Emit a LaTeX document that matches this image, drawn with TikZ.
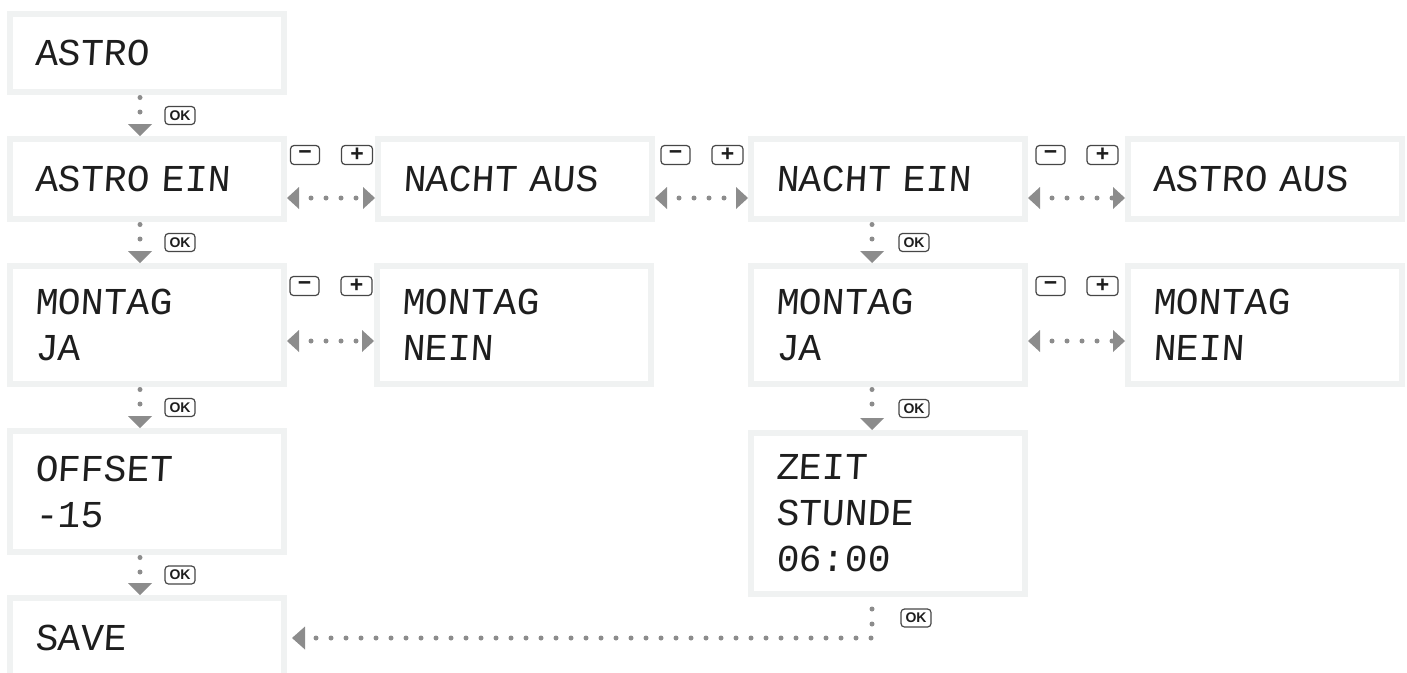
\documentclass[tikz,border=0pt]{standalone}
\usepackage{fontspec}
\usetikzlibrary{arrows.meta,calc}
\newfontfamily\lcdfont{Liberation Mono}[FakeSlant=0.06]
\newfontfamily\btnfont{Liberation Sans}
\definecolor{boxgray}{RGB}{240,242,242}
\definecolor{conngray}{RGB}{140,140,140}
\definecolor{lcdtext}{RGB}{30,30,30}
\definecolor{btnline}{RGB}{70,70,70}
\tikzset{
  lcdbox/.style={draw=boxgray, line width=6pt, fill=white, inner sep=0pt,
    text width=224pt, align=left, minimum width=274pt, text=lcdtext,
    font={\lcdfont\fontsize{38}{46}\selectfont}},
  keybtn/.style={draw=btnline, solid, line width=1.2pt, rounded corners=3.5pt, fill=white,
    minimum width=29pt, minimum height=19pt, inner sep=0pt, text=lcdtext,
    font={\btnfont\bfseries\fontsize{23}{23}\selectfont}},
  okbtn/.style={keybtn, minimum width=30pt, minimum height=18pt,
    font={\btnfont\bfseries\fontsize{14}{14}\selectfont}},
  dotline/.style={draw=conngray, line width=5pt, line cap=round},
  vconn/.style={dotline, dash pattern=on 0pt off 14.5pt, shorten <=2.5pt,
    -{Triangle[length=12pt,width=24pt,line width=0pt]}},
  hconn/.style={dotline, dash pattern=on 0pt off 15pt, dash phase=3pt,
    {Triangle[length=12pt,width=22pt,line width=0pt]}-{Triangle[length=12pt,width=22pt,line width=0pt]}},
  fconn/.style={dotline, dash pattern=on 0pt off 15pt, dash phase=3pt, shorten >=5pt,
    -{Triangle[length=13pt,width=23pt,line width=0pt]}}
}
\begin{document}
\begin{tikzpicture}[x=1pt,y=-1pt]
\useasboundingbox (0,0) rectangle (1407,672);
\clip (0,0) rectangle (1407,672);

% boxes
\node[lcdbox, minimum height=78pt] (b1) at (147,53) {ASTRO};
\node[lcdbox, minimum height=80pt] (b2) at (147,179) {ASTRO EIN};
\node[lcdbox, minimum height=80pt] (b3) at (515,179) {NACHT AUS};
\node[lcdbox, minimum height=80pt] (b4) at (888,179) {NACHT EIN};
\node[lcdbox, minimum height=80pt] (b5) at (1265,179) {ASTRO AUS};
\node[lcdbox, minimum height=118pt] (b6) at (147,325) {MONTAG\\JA};
\node[lcdbox, minimum height=118pt] (b7) at (514,325) {MONTAG\\NEIN};
\node[lcdbox, minimum height=118pt] (b8) at (888,325) {MONTAG\\JA};
\node[lcdbox, minimum height=118pt] (b9) at (1265,325) {MONTAG\\NEIN};
\node[lcdbox, minimum height=121pt] (b10) at (147,491.5) {OFFSET\\-15};
\node[lcdbox, minimum height=161pt] (b11) at (888,513.5) {ZEIT\\STUNDE\\06:00};
\node[lcdbox, minimum height=80pt] (b12) at (147,638) {SAVE};

% vertical connectors
\draw[vconn] ([xshift=-7pt]b1.south) -- ([xshift=-7pt]b2.north);
\draw[vconn] ([xshift=-7pt]b2.south) -- ([xshift=-7pt]b6.north);
\draw[vconn] ([xshift=-7pt]b6.south) -- ([xshift=-7pt]b10.north);
\draw[vconn] ([xshift=-7pt]b10.south) -- ([xshift=-7pt]b12.north);
\draw[vconn] ([xshift=-16pt]b4.south) -- ([xshift=-16pt]b8.north);
\draw[vconn] ([xshift=-16pt]b8.south) -- ([xshift=-16pt]b11.north);
\draw[fconn] ([xshift=-16pt]b11.south) |- (b12.east);

\node[okbtn] (ok1) at ($([xshift=-7pt]b1.south)!0.5!([xshift=-7pt]b2.north)+(40,0)$) {OK};
\node[okbtn] (ok2) at ($([xshift=-7pt]b2.south)!0.5!([xshift=-7pt]b6.north)+(40,0)$) {OK};
\node[okbtn] (ok3) at ($([xshift=-7pt]b6.south)!0.5!([xshift=-7pt]b10.north)+(40,0)$) {OK};
\node[okbtn] (ok4) at ($([xshift=-7pt]b10.south)!0.5!([xshift=-7pt]b12.north)+(40,0)$) {OK};
\node[okbtn] (ok5) at ($([xshift=-16pt]b4.south)!0.5!([xshift=-16pt]b8.north)+(42,0)$) {OK};
\node[okbtn] (ok6) at ($([xshift=-16pt]b8.south)!0.5!([xshift=-16pt]b11.north)+(42,0)$) {OK};
\node[okbtn] (ok7) at ($([xshift=-16pt]b11.south)+(44,21)$) {OK};

% horizontal connectors
\draw[hconn] ([yshift=-19pt]b2.east) -- ([yshift=-19pt]b3.west);
\draw[hconn] ([yshift=-19pt]b3.east) -- ([yshift=-19pt]b4.west);
\draw[hconn] ([yshift=-19pt]b4.east) -- ([yshift=-19pt]b5.west);
\draw[hconn] ([yshift=-16pt]b6.east) -- ([yshift=-16pt]b7.west);
\draw[hconn] ([yshift=-16pt]b8.east) -- ([yshift=-16pt]b9.west);

% minus / plus keys
\node[keybtn] (m1) at ($(b2.east)!0.5!(b3.west)+(-26,-24)$) {−};
\node[keybtn, minimum width=31pt] (p1) at ($(b2.east)!0.5!(b3.west)+(26,-24)$) {+};
\node[keybtn] (m2) at ($(b3.east)!0.5!(b4.west)+(-26,-24)$) {−};
\node[keybtn, minimum width=31pt] (p2) at ($(b3.east)!0.5!(b4.west)+(26,-24)$) {+};
\node[keybtn] (m3) at ($(b4.east)!0.5!(b5.west)+(-26,-24)$) {−};
\node[keybtn, minimum width=31pt] (p3) at ($(b4.east)!0.5!(b5.west)+(26,-24)$) {+};
\node[keybtn] (m4) at ($(b6.east)!0.5!(b7.west)+(-26,-39)$) {−};
\node[keybtn, minimum width=31pt] (p4) at ($(b6.east)!0.5!(b7.west)+(26,-39)$) {+};
\node[keybtn] (m5) at ($(b8.east)!0.5!(b9.west)+(-26,-39)$) {−};
\node[keybtn, minimum width=31pt] (p5) at ($(b8.east)!0.5!(b9.west)+(26,-39)$) {+};
\end{tikzpicture}
\end{document}
